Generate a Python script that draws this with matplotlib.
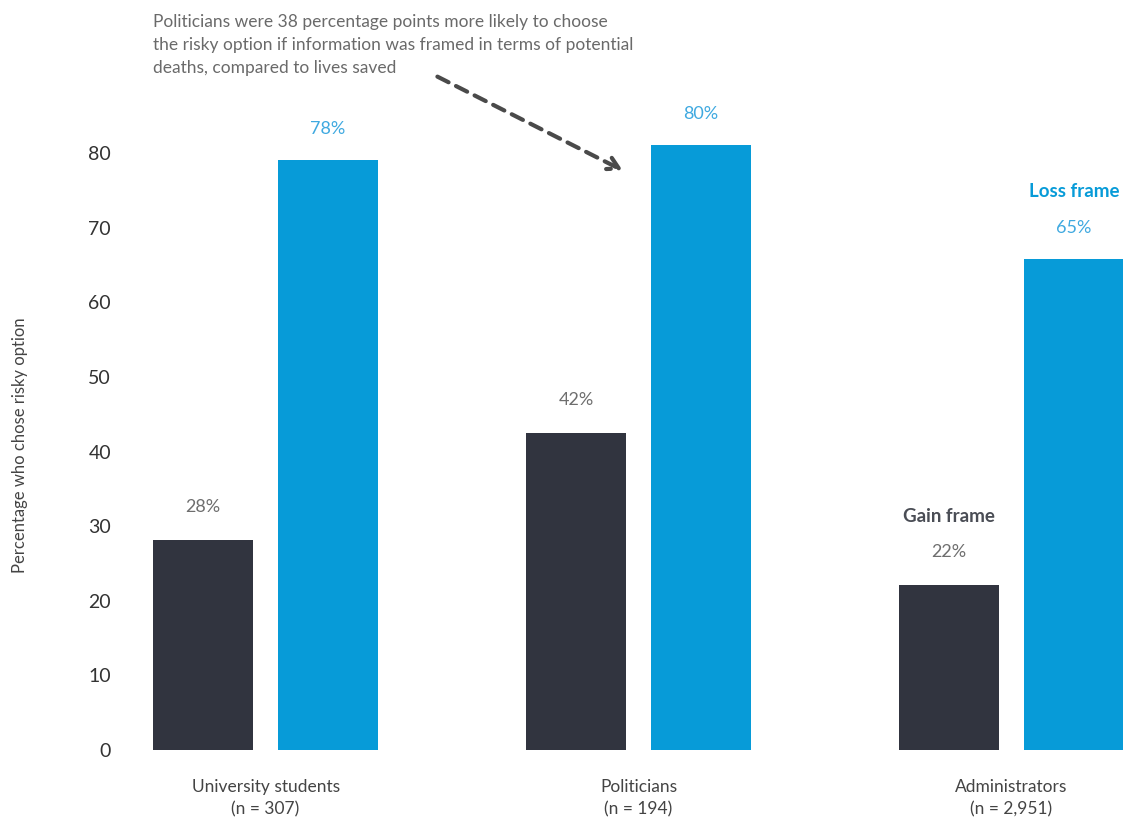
import numpy as np
import matplotlib.pyplot as plt

# data
groups = ["University students\n(n = 307)", "Politicians\n(n = 194)", "Administrators\n(n = 2,951)"]
gain = [28.1, 42.5, 22.1]
loss = [79.1, 81.1, 65.8]
gain_labels = ["28%", "42%", "22%"]
loss_labels = ["78%", "80%", "65%"]

dark = "#31343f"
blue = "#079bd8"

plt.rcParams["font.family"] = ["Lato", "DejaVu Sans"]

fig = plt.figure(figsize=(11.23, 8.19), dpi=100)
ax = fig.add_axes([0.11, 0.0842, 0.89, 0.7937])

x = np.arange(len(groups))
w = 0.268
off = 0.1676
ax.bar(x - off, gain, w, color=dark)
ax.bar(x + off, loss, w, color=blue)

for i in range(len(groups)):
    ax.text(x[i] - off, gain[i] + 4.4, gain_labels[i], ha="center", va="center",
            fontsize=13, color="#6e6e6e")
    ax.text(x[i] + off, loss[i] + 4.1, loss_labels[i], ha="center", va="center",
            fontsize=13, color="#3fa9e0")

# series labels
ax.text(x[2] - off, gain[2] + 9.2, "Gain frame", ha="center", va="center",
        fontsize=13.5, color="#4a4d55", fontweight="bold")
ax.text(x[2] + off, loss[2] + 9.0, "Loss frame", ha="center", va="center",
        fontsize=13.5, color=blue, fontweight="bold")

ax.set_xlim(-0.381, 2.299)
ax.set_ylim(0, 87.1)
ax.set_yticks(range(0, 81, 10))
ax.set_xticks(x)
ax.set_xticklabels(groups, fontsize=12.5, color="#444444", linespacing=1.45)
ax.tick_params(axis="y", length=0, pad=9, labelsize=14, labelcolor="#333333")
ax.tick_params(axis="x", length=0, pad=21)
for s in ax.spines.values():
    s.set_visible(False)

fig.text(20 / 1123, 1 - 445 / 819, "Percentage who chose risky option", rotation=90,
         ha="center", va="center", fontsize=12, color="#444444")

# annotation
fig.text(153 / 1123, 1 - 14 / 819,
         "Politicians were 38 percentage points more likely to choose\n"
         "the risky option if information was framed in terms of potential\n"
         "deaths, compared to lives saved",
         ha="left", va="top", fontsize=12.5, color="#6a6a6a", linespacing=1.55)
ax.annotate("", xy=(0.964, 77.5), xytext=(0.454, 90.4), annotation_clip=False,
            arrowprops=dict(arrowstyle="->,head_length=0.8,head_width=0.45", color="#4a4a4a",
                            lw=3, linestyle=(0, (3, 2))))

fig.savefig("out.png", dpi=100)
